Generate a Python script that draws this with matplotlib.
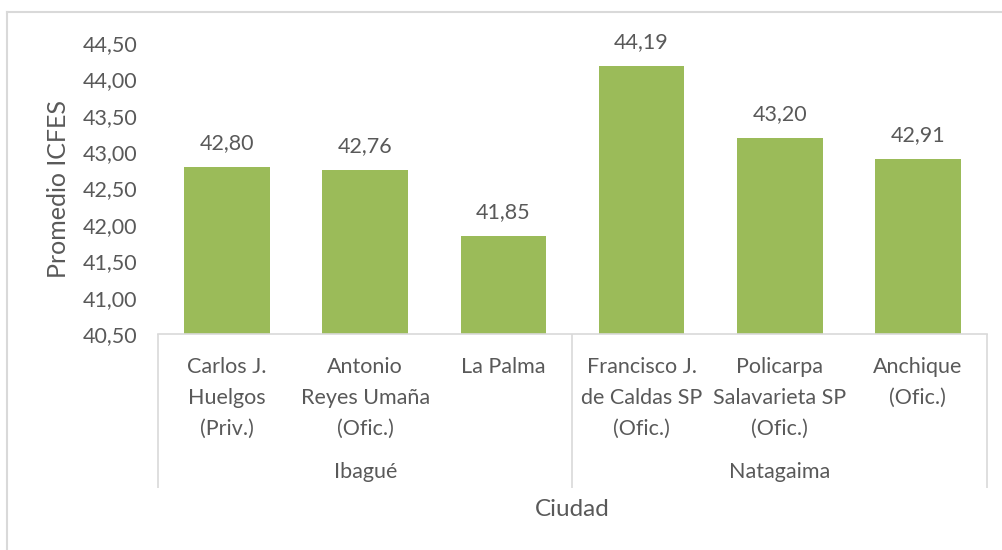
import matplotlib

matplotlib.use("Agg")
import matplotlib.pyplot as plt
from matplotlib.lines import Line2D
from matplotlib.ticker import FuncFormatter

schools = [
    "Carlos J.\nHuelgos\n(Priv.)",
    "Antonio\nReyes Umaña\n(Ofic.)",
    "La Palma",
    "Francisco J.\nde Caldas SP\n(Ofic.)",
    "Policarpa\nSalavarieta SP\n(Ofic.)",
    "Anchique\n(Ofic.)",
]
scores = [42.80, 42.76, 41.85, 44.19, 43.20, 42.91]
cities = ["Ibagué", "Natagaima"]
city_sizes = [3, 3]

GREEN = "#9BBB59"
TEXT = "#595959"
LINE = "#D9D9D9"
FS = 15.5

plt.rcParams["font.family"] = ["Lato", "DejaVu Sans"]

W, H = 1002, 550
fig = plt.figure(figsize=(W / 100, H / 100), dpi=100)

# axes placed in pixel terms of the reference
left, right, top, bottom = 158, 987, 43, 334
ax = fig.add_axes([left / W, 1 - bottom / H, (right - left) / W, (bottom - top) / H])

x = range(len(scores))
ax.bar(x, scores, width=0.62, color=GREEN, bottom=0)
ax.set_ylim(40.5, 44.5)
ax.set_xlim(-0.5, len(scores) - 0.5)
ax.set_yticks([40.5 + 0.5 * i for i in range(9)])
ax.yaxis.set_major_formatter(FuncFormatter(lambda v, p: f"{v:.2f}".replace(".", ",")))
ax.tick_params(axis="y", length=0, pad=15, labelsize=FS, labelcolor=TEXT)
ax.tick_params(axis="x", length=0, labelbottom=False)

for s in ["top", "right", "left"]:
    ax.spines[s].set_visible(False)
ax.spines["bottom"].set_color(LINE)
ax.spines["bottom"].set_linewidth(1.2)

for xi, v in zip(x, scores):
    ax.annotate(f"{v:.2f}".replace(".", ","), (xi, v), xytext=(0, 10),
                textcoords="offset points", ha="center", va="bottom",
                fontsize=FS, color=TEXT)

# category labels under the axis
px = 0.72  # points per pixel at 100 dpi
for xi, name in zip(x, schools):
    ax.annotate(name, (xi, 0), xycoords=("data", "axes fraction"),
                xytext=(0, -23 * px), textcoords="offset points",
                ha="center", va="top", fontsize=FS, color=TEXT, linespacing=1.68)

# group labels and separators
ax_h = bottom - top
sep_bottom = -(488 - bottom) / ax_h
start = 0
bounds = [-0.5]
for city, n in zip(cities, city_sizes):
    mid = start + (n - 1) / 2
    ax.annotate(city, (mid, 0), xycoords=("data", "axes fraction"),
                xytext=(0, -(472 - bottom) * px), textcoords="offset points",
                ha="center", va="center", fontsize=FS, color=TEXT)
    start += n
    bounds.append(start - 0.5)
ax.vlines(bounds, sep_bottom, 0, transform=ax.get_xaxis_transform(),
          colors=LINE, linewidth=1.2, clip_on=False)

ax.set_xlabel("Ciudad", fontsize=17.5, color=TEXT, labelpad=0)
ax.xaxis.set_label_coords(0.5, -(510 - bottom) / ax_h)
ax.xaxis.label.set_va("center")
ax.set_ylabel("Promedio ICFES", fontsize=18, color=TEXT)
ax.yaxis.set_label_coords(-(left - 58) / (right - left), 0.5)
ax.yaxis.label.set_va("center")

# chart frame: top and left edges only
fig.add_artist(Line2D([7 / W, 7 / W], [0, 1 - 12 / H], transform=fig.transFigure,
                      color=LINE, linewidth=1.5))
fig.add_artist(Line2D([7 / W, 1], [1 - 12 / H, 1 - 12 / H], transform=fig.transFigure,
                      color=LINE, linewidth=1.5))

plt.savefig("out.png", dpi=100, facecolor="white")
plt.close()
